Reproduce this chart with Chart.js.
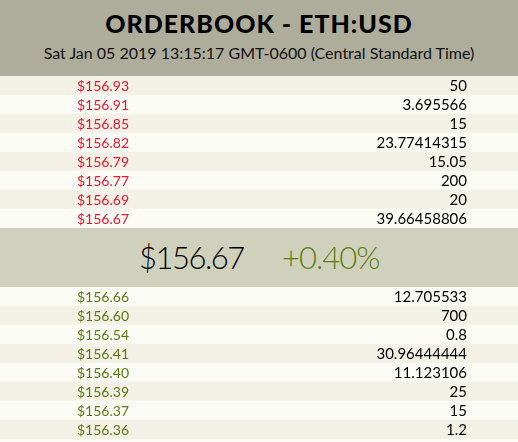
<!DOCTYPE html>
<html>
<head>
<meta charset="utf-8">
<script src="https://cdn.jsdelivr.net/npm/chart.js@4.4.1/dist/chart.umd.min.js"></script>
<style>
  html, body { margin: 0; padding: 0; background: #fbfbf5; }
  body { width: 518px; height: 442px; overflow: hidden; position: relative; font-family: Lato, 'Open Sans', sans-serif; }
  .head { position: absolute; left: 0; top: 0; width: 518px; height: 76px; background: #aeac9b; text-align: center; }
  .head h1 { margin: 0; position: absolute; top: 8px; width: 100%; font-size: 25px; font-weight: 900; letter-spacing: 1px; color: #000; line-height: 30px; }
  .head .stamp { position: absolute; top: 42px; width: 100%; font-size: 16px; color: #111; line-height: 22px; }
  .mid { position: absolute; left: 0; top: 228px; width: 518px; height: 59px; background: #d0d1bc; }
  .mid span { position: absolute; top: 9px; font-size: 31px; font-weight: 300; line-height: 40px; }
  #last { left: 139px; color: #000; letter-spacing: -1.5px; }
  #change { left: 282px; color: #5b7d12; letter-spacing: -1px; }
  .book { position: absolute; left: 0; width: 518px; height: 152px; }
</style>
</head>
<body>
<div class="head">
  <h1>ORDERBOOK - ETH:USD</h1>
  <div class="stamp">Sat Jan 05 2019 13:15:17 GMT-0600 (Central Standard Time)</div>
</div>
<div class="book" style="top:76px"><canvas id="asks"></canvas></div>
<div class="mid"><span id="last">$156.67</span><span id="change">+0.40%</span></div>
<div class="book" style="top:287px"><canvas id="bids"></canvas></div>
<script>
const askPrices = [156.93, 156.91, 156.85, 156.82, 156.79, 156.77, 156.69, 156.67];
const askAmounts = ['50', '3.695566', '15', '23.77414315', '15.05', '200', '20', '39.66458806'];
const bidPrices = [156.66, 156.60, 156.54, 156.41, 156.40, 156.39, 156.37, 156.36];
const bidAmounts = ['12.705533', '700', '0.8', '30.96444444', '11.123106', '25', '15', '1.2'];

const STRIPE_DARK = '#f3f1e6';
const STRIPE_LIGHT = '#fbfbf5';

// draws price and amount text on each row, using the y scale for row centres
const rowText = {
  id: 'rowText',
  afterDatasetsDraw(chart, args, opts) {
    const { ctx } = chart;
    const y = chart.scales.y;
    ctx.save();
    ctx.textBaseline = 'middle';
    chart.data.labels.forEach((label, i) => {
      const py = y.getPixelForValue(i);
      ctx.font = '14px Lato, sans-serif';
      ctx.fillStyle = opts.priceColor;
      ctx.textAlign = 'center';
      ctx.fillText(label, 103, py + 0.5);
      ctx.font = '15px Lato, sans-serif';
      ctx.fillStyle = '#000';
      ctx.textAlign = 'right';
      ctx.fillText(opts.amounts[i], 467, py + 0.5);
    });
    ctx.restore();
  }
};

function makeBook(canvasId, prices, amounts, priceColor, firstDark) {
  const stripes = prices.map((p, i) => ((i % 2 === 0) === firstDark ? STRIPE_DARK : STRIPE_LIGHT));
  return new Chart(document.getElementById(canvasId), {
    type: 'bar',
    data: {
      labels: prices.map(p => '$' + p.toFixed(2)),
      datasets: [{
        data: prices.map(() => [0, 1]),
        backgroundColor: stripes,
        borderWidth: 0,
        barPercentage: 1,
        categoryPercentage: 1
      }]
    },
    options: {
      indexAxis: 'y',
      responsive: true,
      maintainAspectRatio: false,
      animation: false,
      layout: { padding: 0 },
      scales: {
        x: { display: false, min: 0, max: 1 },
        y: { display: false }
      },
      plugins: {
        legend: { display: false },
        tooltip: { enabled: false },
        rowText: { amounts: amounts, priceColor: priceColor }
      }
    },
    plugins: [rowText]
  });
}

makeBook('asks', askPrices, askAmounts, '#e8162e', true);
makeBook('bids', bidPrices, bidAmounts, '#5b7a12', false);
</script>
</body>
</html>
